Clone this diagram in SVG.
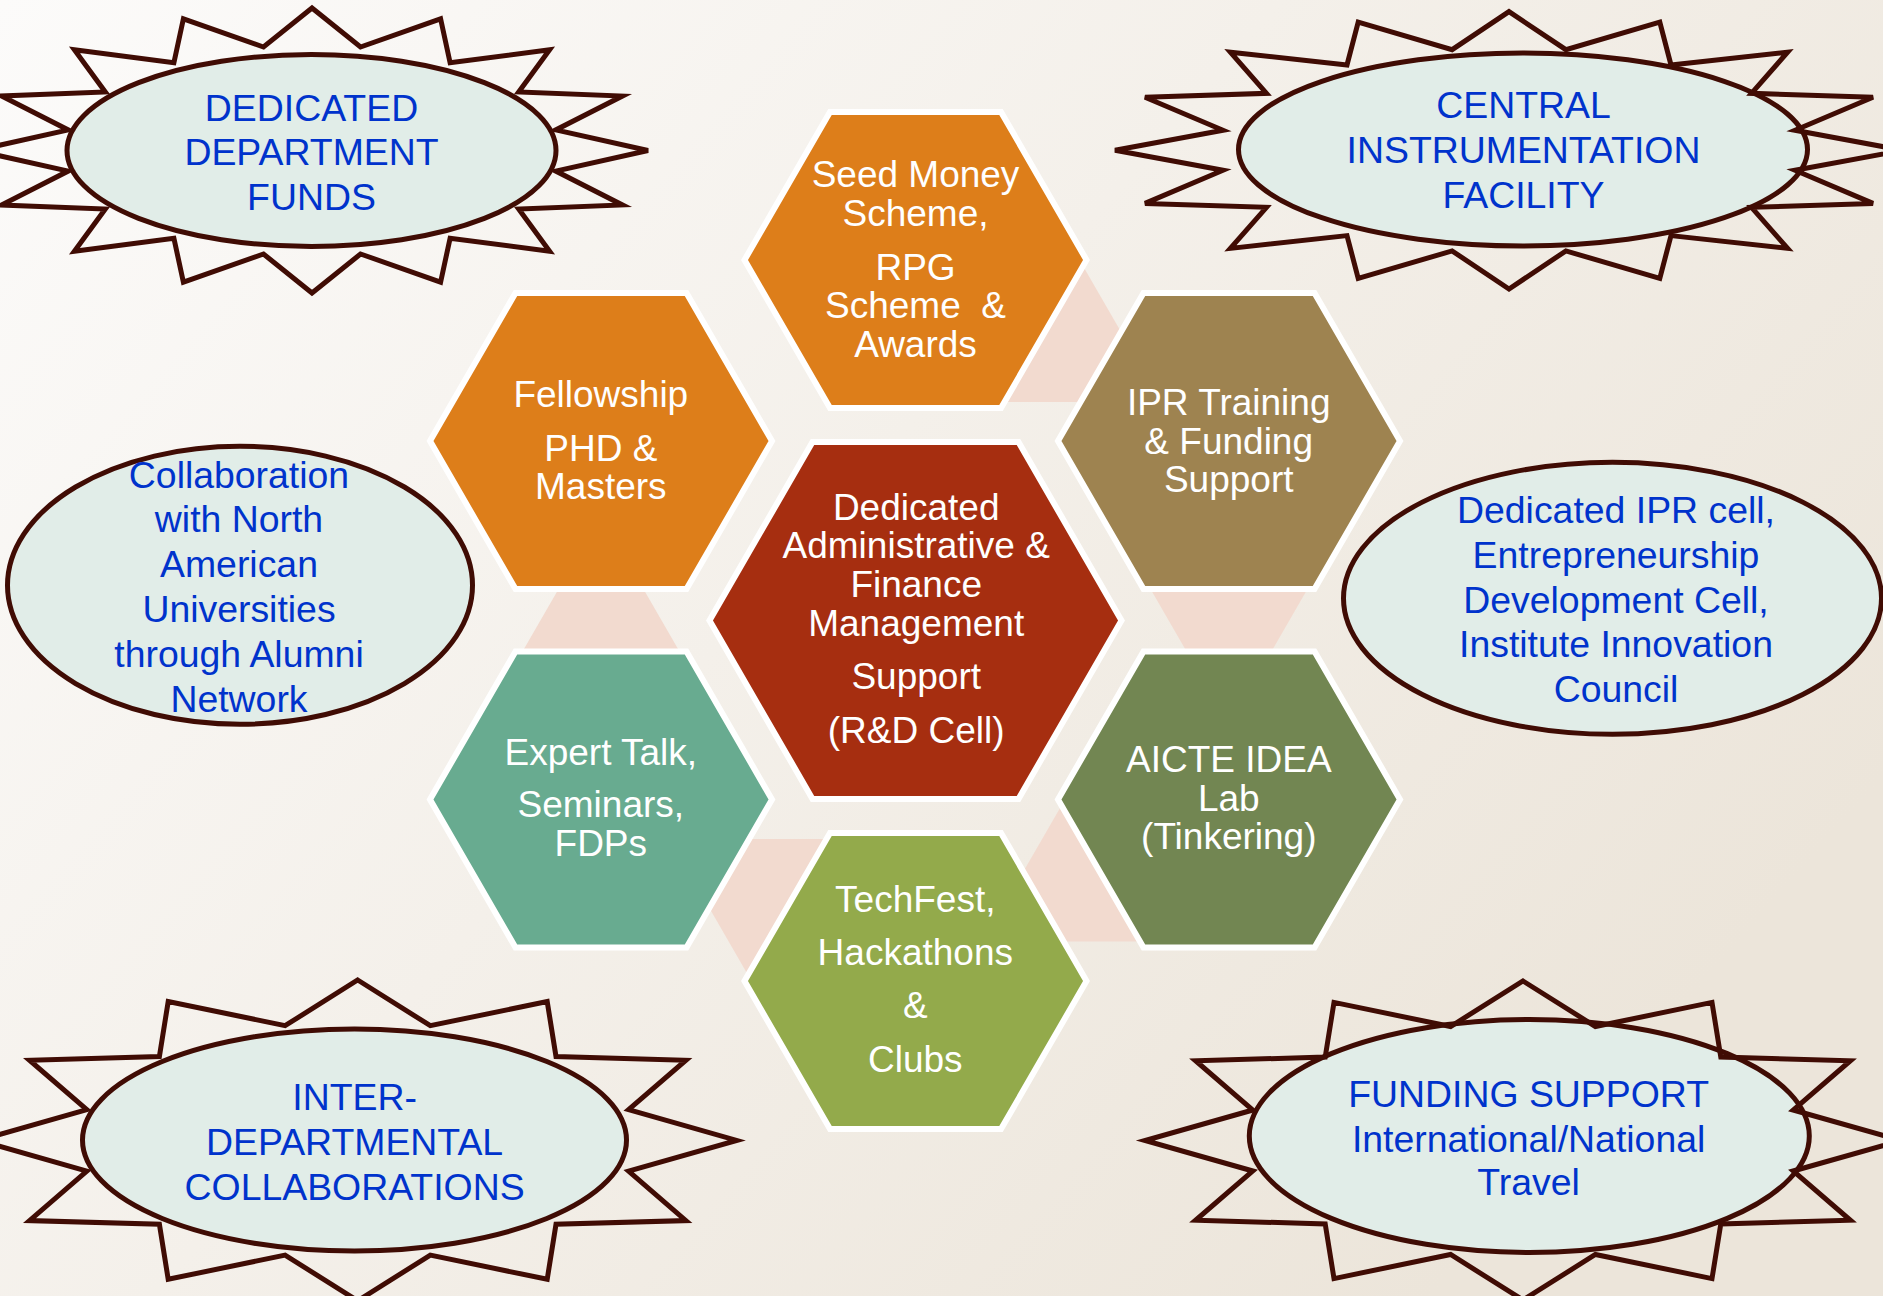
<svg xmlns="http://www.w3.org/2000/svg" width="1883" height="1296" viewBox="0 0 1883 1296">
  <defs>
    <linearGradient id="bg" x1="0" y1="0" x2="1" y2="0.6">
      <stop offset="0" stop-color="#FCFBFA"/>
      <stop offset="1" stop-color="#ECE5DA"/>
    </linearGradient>
    <style>
      .hex { stroke: #FFFFFF; stroke-width: 6; stroke-linejoin: miter; }
      .ht { font-family: "Liberation Sans", Arial, sans-serif; font-size: 37px; fill: #FFFFFF; text-anchor: middle; }
      .et { font-family: "Liberation Sans", Arial, sans-serif; font-size: 37.4px; fill: #0033CC; text-anchor: middle; }
      .ell { fill: #E1EDE8; stroke: #400C04; stroke-width: 5; }
      .star { fill: none; stroke: #400C04; stroke-width: 5; stroke-linejoin: miter; }
      .pink { fill: #F2DACF; }
    </style>
  </defs>

  <rect x="0" y="0" width="1883" height="1296" fill="url(#bg)"/>

  <g id="connectors">
    <polygon class="pink" points="1083,266 1004.5,402 1161.5,402"/>
    <polygon class="pink" points="1150.5,589.1 1307.5,589.1 1229,725.1"/>
    <polygon class="pink" points="1061.5,805.5 1140,941.5 983,941.5"/>
    <polygon class="pink" points="826.5,839 748,975 669.5,839"/>
    <polygon class="pink" points="522.5,651.4 679.5,651.4 601,515.4"/>
  </g>

  <g id="node-seed">
    <polygon class="hex" fill="#DD7E1A" points="744.5,260 830,111.9 1001,111.9 1086.5,260 1001,408.1 830,408.1"/>
    <text class="ht" x="915.5" y="187.3">Seed Money</text>
    <text class="ht" x="915.5" y="226">Scheme,</text>
    <text class="ht" x="915.5" y="280">RPG</text>
    <text class="ht" x="915.5" y="318.3" style="white-space:pre">Scheme  &amp;</text>
    <text class="ht" x="915.5" y="356.7">Awards</text>
  </g>

  <g id="node-fellowship">
    <polygon class="hex" fill="#DD7E1A" points="430,441 515.5,292.9 686.5,292.9 772,441 686.5,589.1 515.5,589.1"/>
    <text class="ht" x="600.8" y="407.4">Fellowship</text>
    <text class="ht" x="600.8" y="460.8">PHD &amp;</text>
    <text class="ht" x="600.8" y="499.4">Masters</text>
  </g>

  <g id="node-expert">
    <polygon class="hex" fill="#68AB90" points="430,799.5 515.5,651.4 686.5,651.4 772,799.5 686.5,947.6 515.5,947.6"/>
    <text class="ht" x="600.8" y="764.5">Expert Talk,</text>
    <text class="ht" x="600.8" y="816.7">Seminars,</text>
    <text class="ht" x="600.8" y="856">FDPs</text>
  </g>

  <g id="node-techfest">
    <polygon class="hex" fill="#93AA4B" points="744.5,981 830,832.9 1001,832.9 1086.5,981 1001,1129.1 830,1129.1"/>
    <text class="ht" x="915.3" y="911.7">TechFest,</text>
    <text class="ht" x="915.3" y="965">Hackathons</text>
    <text class="ht" x="915.3" y="1018.3">&amp;</text>
    <text class="ht" x="915.3" y="1071.7">Clubs</text>
  </g>

  <g id="node-ipr">
    <polygon class="hex" fill="#9E8350" points="1058,441 1143.5,292.9 1314.5,292.9 1400,441 1314.5,589.1 1143.5,589.1"/>
    <text class="ht" x="1228.7" y="415.3">IPR Training</text>
    <text class="ht" x="1228.7" y="453.5">&amp; Funding</text>
    <text class="ht" x="1228.7" y="491.6">Support</text>
  </g>

  <g id="node-aicte">
    <polygon class="hex" fill="#728652" points="1058,799.5 1143.5,651.4 1314.5,651.4 1400,799.5 1314.5,947.6 1143.5,947.6"/>
    <text class="ht" x="1228.8" y="772.2">AICTE IDEA</text>
    <text class="ht" x="1228.8" y="811.2">Lab</text>
    <text class="ht" x="1228.8" y="849">(Tinkering)</text>
  </g>

  <g id="node-center">
    <polygon class="hex" fill="#A62E10" points="709.5,620.5 812.5,442.1 1018.5,442.1 1121.5,620.5 1018.5,798.9 812.5,798.9"/>
    <text class="ht" x="916.2" y="520">Dedicated</text>
    <text class="ht" x="916.2" y="558.2">Administrative &amp;</text>
    <text class="ht" x="916.2" y="596.8">Finance</text>
    <text class="ht" x="916.2" y="635.7">Management</text>
    <text class="ht" x="916.2" y="689">Support</text>
    <text class="ht" x="916.2" y="743">(R&amp;D Cell)</text>
  </g>

  <g id="node-dept-funds">
    <ellipse class="ell" cx="311.5" cy="150.5" rx="244.5" ry="96"/>
    <polygon class="star" points="312,8 360.5,47 440.6,18.8 450.1,62.8 549.6,49.7 518.7,91.9 622.4,96 555.8,129.9 648,150.5 555.8,171.1 622.4,205 518.7,209.1 549.6,251.3 450.1,238.2 440.6,282.2 360.5,254 312,293 263.5,254 183.4,282.2 173.9,238.2 74.4,251.3 105.3,209.1 1.6,205 68.2,171.1 -24,150.5 68.2,129.9 1.6,96 105.3,91.9 74.4,49.7 173.9,62.8 183.4,18.8 263.5,47"/>
    <text class="et" x="311.5" y="120.5">DEDICATED</text>
    <text class="et" x="311.5" y="165">DEPARTMENT</text>
    <text class="et" x="311.5" y="209.5">FUNDS</text>
  </g>

  <g id="node-central-facility">
    <ellipse class="ell" cx="1523" cy="149.5" rx="284.5" ry="96.5"/>
    <polygon class="star" points="1509,11.6 1565.9,49.7 1659.8,22.2 1671,65 1787.6,52.2 1751.5,93.3 1873,97.2 1795,130.3 1903,150.3 1795,170.3 1873,203.4 1751.5,207.3 1787.6,248.4 1671,235.6 1659.8,278.4 1565.9,250.9 1509,289 1452.1,250.9 1358.2,278.4 1347,235.6 1230.4,248.4 1266.5,207.3 1145,203.4 1223,170.3 1115,150.3 1223,130.3 1145,97.2 1266.5,93.3 1230.4,52.2 1347,65 1358.2,22.2 1452.1,49.7"/>
    <text class="et" x="1523.5" y="117.5">CENTRAL</text>
    <text class="et" x="1523.5" y="162.5">INSTRUMENTATION</text>
    <text class="et" x="1523.5" y="207.5">FACILITY</text>
  </g>

  <g id="node-north-america">
    <ellipse class="ell" cx="240" cy="585.3" rx="232.5" ry="139"/>
    <text class="et" x="239" y="488.3">Collaboration</text>
    <text class="et" x="239" y="532">with North</text>
    <text class="et" x="239" y="576.7">American</text>
    <text class="et" x="239" y="621.5">Universities</text>
    <text class="et" x="239" y="666.5">through Alumni</text>
    <text class="et" x="239" y="711.5">Network</text>
  </g>

  <g id="node-ipr-cell">
    <ellipse class="ell" cx="1612.5" cy="598.3" rx="269" ry="136"/>
    <text class="et" x="1616" y="522.7">Dedicated IPR cell,</text>
    <text class="et" x="1616" y="568">Entrepreneurship</text>
    <text class="et" x="1616" y="612.7">Development Cell,</text>
    <text class="et" x="1616" y="657.3">Institute Innovation</text>
    <text class="et" x="1616" y="701.7">Council</text>
  </g>

  <g id="node-inter-dept">
    <ellipse class="ell" cx="354.5" cy="1140" rx="272" ry="111"/>
    <polygon class="star" points="357.7,980 430.3,1025.7 547.2,1001.5 556,1056.5 685.9,1060.2 628.6,1109.7 736.7,1140.4 628.6,1171.1 685.9,1220.6 556,1224.3 547.2,1279.3 430.3,1255.1 357.7,1300.8 285.1,1255.1 168.2,1279.3 159.4,1224.3 29.5,1220.6 86.8,1171.1 -21.3,1140.4 86.8,1109.7 29.5,1060.2 159.4,1056.5 168.2,1001.5 285.1,1025.7"/>
    <text class="et" x="354.6" y="1110">INTER-</text>
    <text class="et" x="354.6" y="1155">DEPARTMENTAL</text>
    <text class="et" x="354.6" y="1200">COLLABORATIONS</text>
  </g>

  <g id="node-travel">
    <ellipse class="ell" cx="1529.3" cy="1136" rx="280" ry="116.5"/>
    <polygon class="star" points="1523,981 1595.4,1026.5 1712,1002.4 1720.8,1057.1 1850.4,1060.75 1793.2,1110 1901,1140.5 1793.2,1171 1850.4,1220.25 1720.8,1223.9 1712,1278.6 1595.4,1254.5 1523,1300 1450.6,1254.5 1334,1278.6 1325.2,1223.9 1195.6,1220.25 1252.8,1171 1145,1140.5 1252.8,1110 1195.6,1060.75 1325.2,1057.1 1334,1002.4 1450.6,1026.5"/>
    <text class="et" x="1528.6" y="1106.5">FUNDING SUPPORT</text>
    <text class="et" x="1528.6" y="1151.5">International/National</text>
    <text class="et" x="1528.6" y="1195">Travel</text>
  </g>
</svg>
